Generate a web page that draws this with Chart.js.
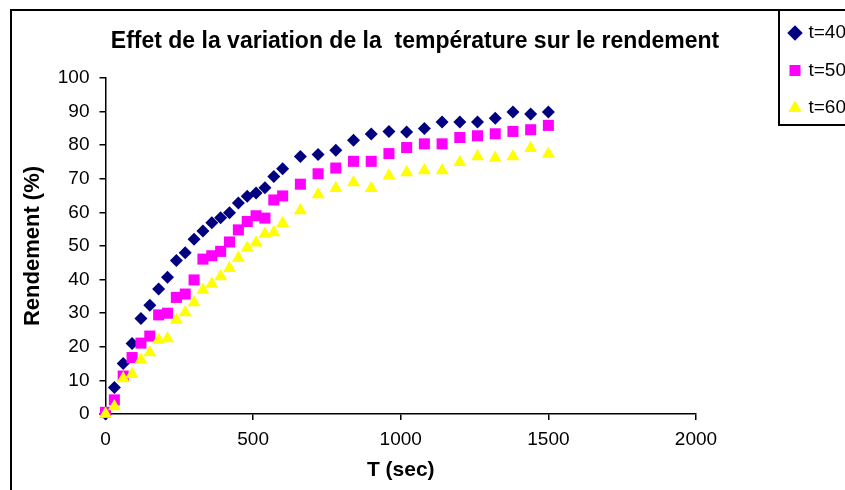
<!DOCTYPE html>
<html>
<head>
<meta charset="utf-8">
<script src="https://cdn.jsdelivr.net/npm/chart.js@4.4.1/dist/chart.umd.min.js"></script>
<style>
  html, body { margin: 0; padding: 0; background: #fff; }
  #wrap { width: 845px; height: 490px; position: relative; }
</style>
</head>
<body>
<div id="wrap"><canvas id="c" width="845" height="490"></canvas></div>
<script>
// ---- Data ----
const timeSec = [0, 30, 60, 90, 120, 150, 180, 210, 240, 270, 300, 330, 360, 390, 420, 450, 480, 510, 540, 570, 600,
                 660, 720, 780, 840, 900, 960, 1020, 1080, 1140, 1200, 1260, 1320, 1380, 1440, 1500];
const seriesLabels = ['t=40', 't=50', 't=60'];
const yield40 = [0, 7.9, 15.0, 21.0, 28.4, 32.4, 37.2, 40.7, 45.7, 48.0, 52.0, 54.5, 56.9, 58.4, 59.9, 62.8, 64.8, 65.8, 67.3, 70.7, 73.0,
                 76.6, 77.2, 78.5, 81.5, 83.3, 84.1, 83.9, 85.0, 86.9, 86.9, 86.9, 88.0, 89.9, 89.3, 89.9];
const yield50 = [0.5, 4.2, 11.3, 16.8, 21.1, 23.2, 29.5, 30.0, 34.7, 35.7, 39.9, 46.1, 47.1, 48.4, 51.2, 54.8, 57.3, 59.0, 58.3, 63.7, 64.9,
                 68.4, 71.5, 73.2, 75.2, 75.2, 77.5, 79.3, 80.4, 80.4, 82.3, 82.8, 83.4, 84.1, 84.6, 85.9];
const yield60 = [0, 2.2, 10.6, 11.8, 16.1, 18.3, 22.0, 22.5, 28.0, 30.2, 33.2, 36.9, 38.7, 40.9, 43.4, 46.4, 49.4, 51.0, 53.6, 54.0, 56.8,
                 60.6, 65.3, 67.2, 68.9, 67.2, 70.9, 71.9, 72.5, 72.5, 74.9, 76.6, 76.2, 76.6, 79.1, 77.4];
const xTicks = [0, 500, 1000, 1500, 2000];
const yTicks = [0, 10, 20, 30, 40, 50, 60, 70, 80, 90, 100];

const FONT = "'Liberation Sans', Arial, sans-serif";

function toPoints(ys) { return timeSec.map((t, i) => ({ x: t, y: ys[i] })); }

// Frame + legend box + placement plugin
const framePlugin = {
  id: 'frame',
  afterLayout(chart) {
    const lg = chart.legend;
    if (lg) {
      const w = lg.width, h = lg.height;
      lg.left = 772.5; lg.top = 5; lg.right = lg.left + w; lg.bottom = lg.top + h;
    }
    const tb = chart.titleBlock;
    if (tb) { tb.left = 30; tb.right = 800; }
  },
  beforeDraw(chart) {
    const ctx = chart.ctx;
    ctx.save();
    ctx.fillStyle = '#fff';
    ctx.fillRect(0, 0, chart.width, chart.height);
    ctx.strokeStyle = '#000';
    ctx.lineWidth = 2;
    ctx.strokeRect(11, 10, 1000, 1000);
    ctx.fillStyle = '#fff';
    ctx.fillRect(779, 10, 200, 115);
    ctx.strokeRect(779, 10, 200, 115);
    ctx.restore();
  }
};

new Chart(document.getElementById('c'), {
  type: 'scatter',
  data: {
    datasets: [
      { label: seriesLabels[0], data: toPoints(yield40), pointStyle: 'rectRot', pointRadius: 6.5,
        backgroundColor: '#000080', borderColor: '#000080', borderWidth: 0, order: 3, clip: false },
      { label: seriesLabels[1], data: toPoints(yield50), pointStyle: 'rect', pointRadius: 7.8,
        backgroundColor: '#FF00FF', borderColor: '#FF00FF', borderWidth: 0, order: 2, clip: false },
      { label: seriesLabels[2], data: toPoints(yield60), pointStyle: 'triangle', pointRadius: 7.5,
        backgroundColor: '#FFFF00', borderColor: '#FFFF00', borderWidth: 0, order: 1, clip: false }
    ]
  },
  options: {
    responsive: false,
    animation: false,
    events: [],
    layout: { padding: { left: 12, right: 149, top: 0, bottom: 0 } },
    plugins: {
      title: {
        display: true,
        text: 'Effet de la variation de la  température sur le rendement',
        color: '#000',
        font: { family: FONT, size: 23, weight: 'bold' },
        padding: { top: 28, bottom: 22.4 }
      },
      legend: {
        display: true,
        position: 'chartArea',
        align: 'start',
        labels: {
          sort: (a, b) => a.datasetIndex - b.datasetIndex,
          usePointStyle: true,
          boxWidth: 8,
          boxHeight: 11,
          padding: 18.5,
          color: '#000',
          font: { family: FONT, size: 19 }
        }
      },
      tooltip: { enabled: false }
    },
    scales: {
      x: {
        type: 'linear',
        min: 0, max: 2000,
        afterBuildTicks: (s) => { s.ticks = xTicks.map(v => ({ value: v })); },
        afterFit: (s) => { s.height = 76; },
        ticks: { color: '#000', font: { family: FONT, size: 19 }, padding: 8, maxRotation: 0, callback: (v) => String(v) },
        grid: { display: true, drawOnChartArea: false, drawTicks: true, tickLength: 6, color: '#000', lineWidth: 1.5 },
        border: { display: true, color: '#000', width: 1.5 },
        title: { display: true, text: 'T (sec)', color: '#000', font: { family: FONT, size: 21, weight: 'bold' }, padding: { top: 7, bottom: 7 } }
      },
      y: {
        type: 'linear',
        min: 0, max: 100,
        afterBuildTicks: (s) => { s.ticks = yTicks.map(v => ({ value: v })); },
        afterFit: (s) => { s.width = 93.5; },
        ticks: { color: '#000', font: { family: FONT, size: 19 }, padding: 10, callback: (v) => String(v) },
        grid: { display: true, drawOnChartArea: false, drawTicks: true, tickLength: 6, color: '#000', lineWidth: 1.5 },
        border: { display: true, color: '#000', width: 1.5 },
        title: { display: true, text: 'Rendement (%)', color: '#000', font: { family: FONT, size: 22, weight: 'bold' }, padding: { top: 7.5, bottom: 7.5 } }
      }
    }
  },
  plugins: [framePlugin]
});
</script>
</body>
</html>
